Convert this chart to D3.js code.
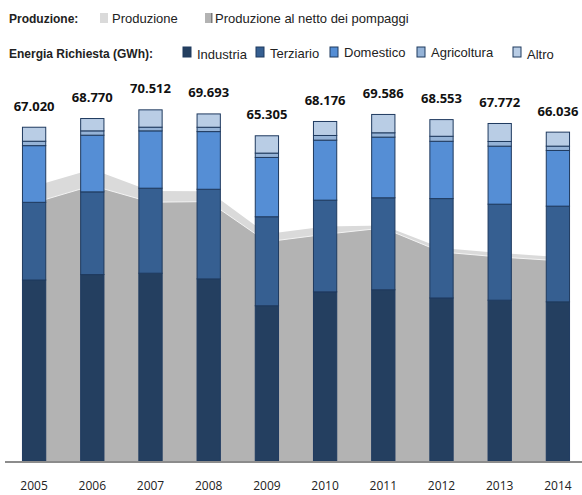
<!DOCTYPE html>
<meta charset="utf-8">
<style>
body { margin: 0; background: #fff; }
svg { display: block; }
.leg { font-family: "Liberation Sans Narrow", "Arial Narrow", sans-serif; font-size: 13px; fill: #222; }
.leg-title { font-weight: bold; font-size: 12px; }
.total { font-family: "Open Sans", sans-serif; font-size: 13px; font-weight: bold; fill: #111; }
.year { font-family: "Open Sans", sans-serif; font-size: 12px; fill: #222; }
</style>
<body>
<svg width="582" height="495"></svg>
</body>
<script src="https://d3js.org/d3.v7.min.js"></script>
<script>

// data (GWh)
var years = ["2005", "2006", "2007", "2008", "2009", "2010", "2011", "2012", "2013", "2014"];
var totals = [67020, 68770, 70512, 69693, 65305, 68176, 69586, 68553, 67772, 66036];
var industria = [36345, 37443, 37712, 36566, 31175, 33968, 34385, 32742, 32291, 31965];
var terziario = [15600, 16600, 17070, 18000, 17870, 18410, 18470, 19950, 19280, 19210];
var domestico = [11380, 11380, 11510, 11580, 11910, 12050, 12180, 11510, 11650, 11180];
var agricoltura = [884, 870, 740, 870, 870, 937, 870, 1004, 937, 870];
var altro = [2811, 2477, 3480, 2677, 3480, 2811, 3681, 3347, 3614, 2811];
var produzione = [55180, 58590, 54220, 54180, 45580, 47090, 47290, 42770, 41770, 40960];
var produzioneNetta = [51850, 55300, 51970, 52090, 44020, 45520, 46790, 41970, 40960, 40220];

var seriesNames = ["Industria", "Terziario", "Domestico", "Agricoltura", "Altro"];
var colors = ["#243f60", "#365f91", "#558ed5", "#95b3d7", "#b9cde5"];

var svg = d3.select("svg");
var baseY = 461;

var x = d3.scaleBand().domain(years).range([5, 587]);
var y = d3.scaleLinear().domain([0, 70000]).range([baseY, baseY - 70000 / 200.8]);
var bw = x.bandwidth() * 0.4;

// build rows for the stack
var rows = years.map(function(yr, i) {
  return {
    year: yr,
    Industria: industria[i],
    Terziario: terziario[i],
    Domestico: domestico[i],
    Agricoltura: agricoltura[i],
    Altro: altro[i]
  };
});
var stacked = d3.stack().keys(seriesNames)(rows);

// production areas
var cx = function(i) { return x(years[i]) + x.bandwidth() / 2; };

var area = d3.area()
    .x(function(d, i) { return cx(i); })
    .y0(baseY)
    .y1(function(d) { return y(d); });

svg.append("path")
    .datum(produzione)
    .attr("fill", "#dadada")
    .attr("d", area);

svg.append("path")
    .datum(produzioneNetta)
    .attr("fill", "#b3b3b3")
    .attr("d", area);

svg.append("path")
    .datum(produzioneNetta)
    .attr("fill", "none")
    .attr("stroke", "#f4f4f4")
    .attr("stroke-width", 1)
    .attr("d", d3.line().x(function(d, i) { return cx(i); }).y(function(d) { return y(d); }));

// stacked bars
svg.selectAll(".serie")
  .data(stacked)
  .enter().append("g")
    .attr("class", "serie")
    .attr("fill", function(d, i) { return colors[i]; })
  .selectAll("rect")
  .data(function(d) { return d; })
  .enter().append("rect")
    .attr("x", function(d) { return x(d.data.year) + (x.bandwidth() - bw) / 2; })
    .attr("y", function(d) { return y(d[1]); })
    .attr("width", bw)
    .attr("height", function(d) { return y(d[0]) - y(d[1]); })
    .attr("stroke", "#1f3a5f")
    .attr("stroke-width", 1);

// total labels
svg.selectAll(".total")
  .data(totals)
  .enter().append("text")
    .attr("class", "total")
    .attr("x", function(d, i) { return cx(i); })
    .attr("y", function(d) { return y(d) - 16.5; })
    .attr("text-anchor", "middle")
    .text(function(d) { return d3.format(",")(d).replace(",", "."); });

// x axis
svg.append("line")
    .attr("x1", 5).attr("x2", 582)
    .attr("y1", baseY + 1).attr("y2", baseY + 1)
    .attr("stroke", "#8c8c8c")
    .attr("stroke-width", 2);

svg.selectAll(".year")
  .data(years)
  .enter().append("text")
    .attr("class", "year")
    .attr("x", function(d) { return x(d) + x.bandwidth() / 2; })
    .attr("y", 490)
    .attr("text-anchor", "middle")
    .text(function(d) { return d; });

// legend
var leg = svg.append("g");

leg.append("text").attr("class", "leg leg-title").attr("x", 9).attr("y", 23).text("Produzione:");
leg.append("rect").attr("x", 100).attr("y", 13).attr("width", 8).attr("height", 10).attr("fill", "#dadada");
leg.append("text").attr("class", "leg").attr("x", 112).attr("y", 23).text("Produzione");
leg.append("rect").attr("x", 205).attr("y", 13).attr("width", 7).attr("height", 10).attr("fill", "#b3b3b3");
leg.append("rect").attr("x", 211).attr("y", 13).attr("width", 1.5).attr("height", 10).attr("fill", "#7a7a7a");
leg.append("text").attr("class", "leg").attr("x", 215).attr("y", 23).text("Produzione al netto dei pompaggi");

leg.append("text").attr("class", "leg leg-title").attr("x", 9).attr("y", 58).text("Energia Richiesta (GWh):");

var legX = [183, 256, 330, 417, 513];
var legDy = [2, 1, 0, 0, 2];
seriesNames.forEach(function(name, i) {
  leg.append("rect")
      .attr("x", legX[i]).attr("y", 47)
      .attr("width", 8).attr("height", 10)
      .attr("fill", colors[i])
      .attr("stroke", "#1f3a5f")
      .attr("stroke-width", 1);
  leg.append("text")
      .attr("class", "leg")
      .attr("x", legX[i] + 14)
      .attr("y", 57 + legDy[i])
      .text(name);
});

</script>
